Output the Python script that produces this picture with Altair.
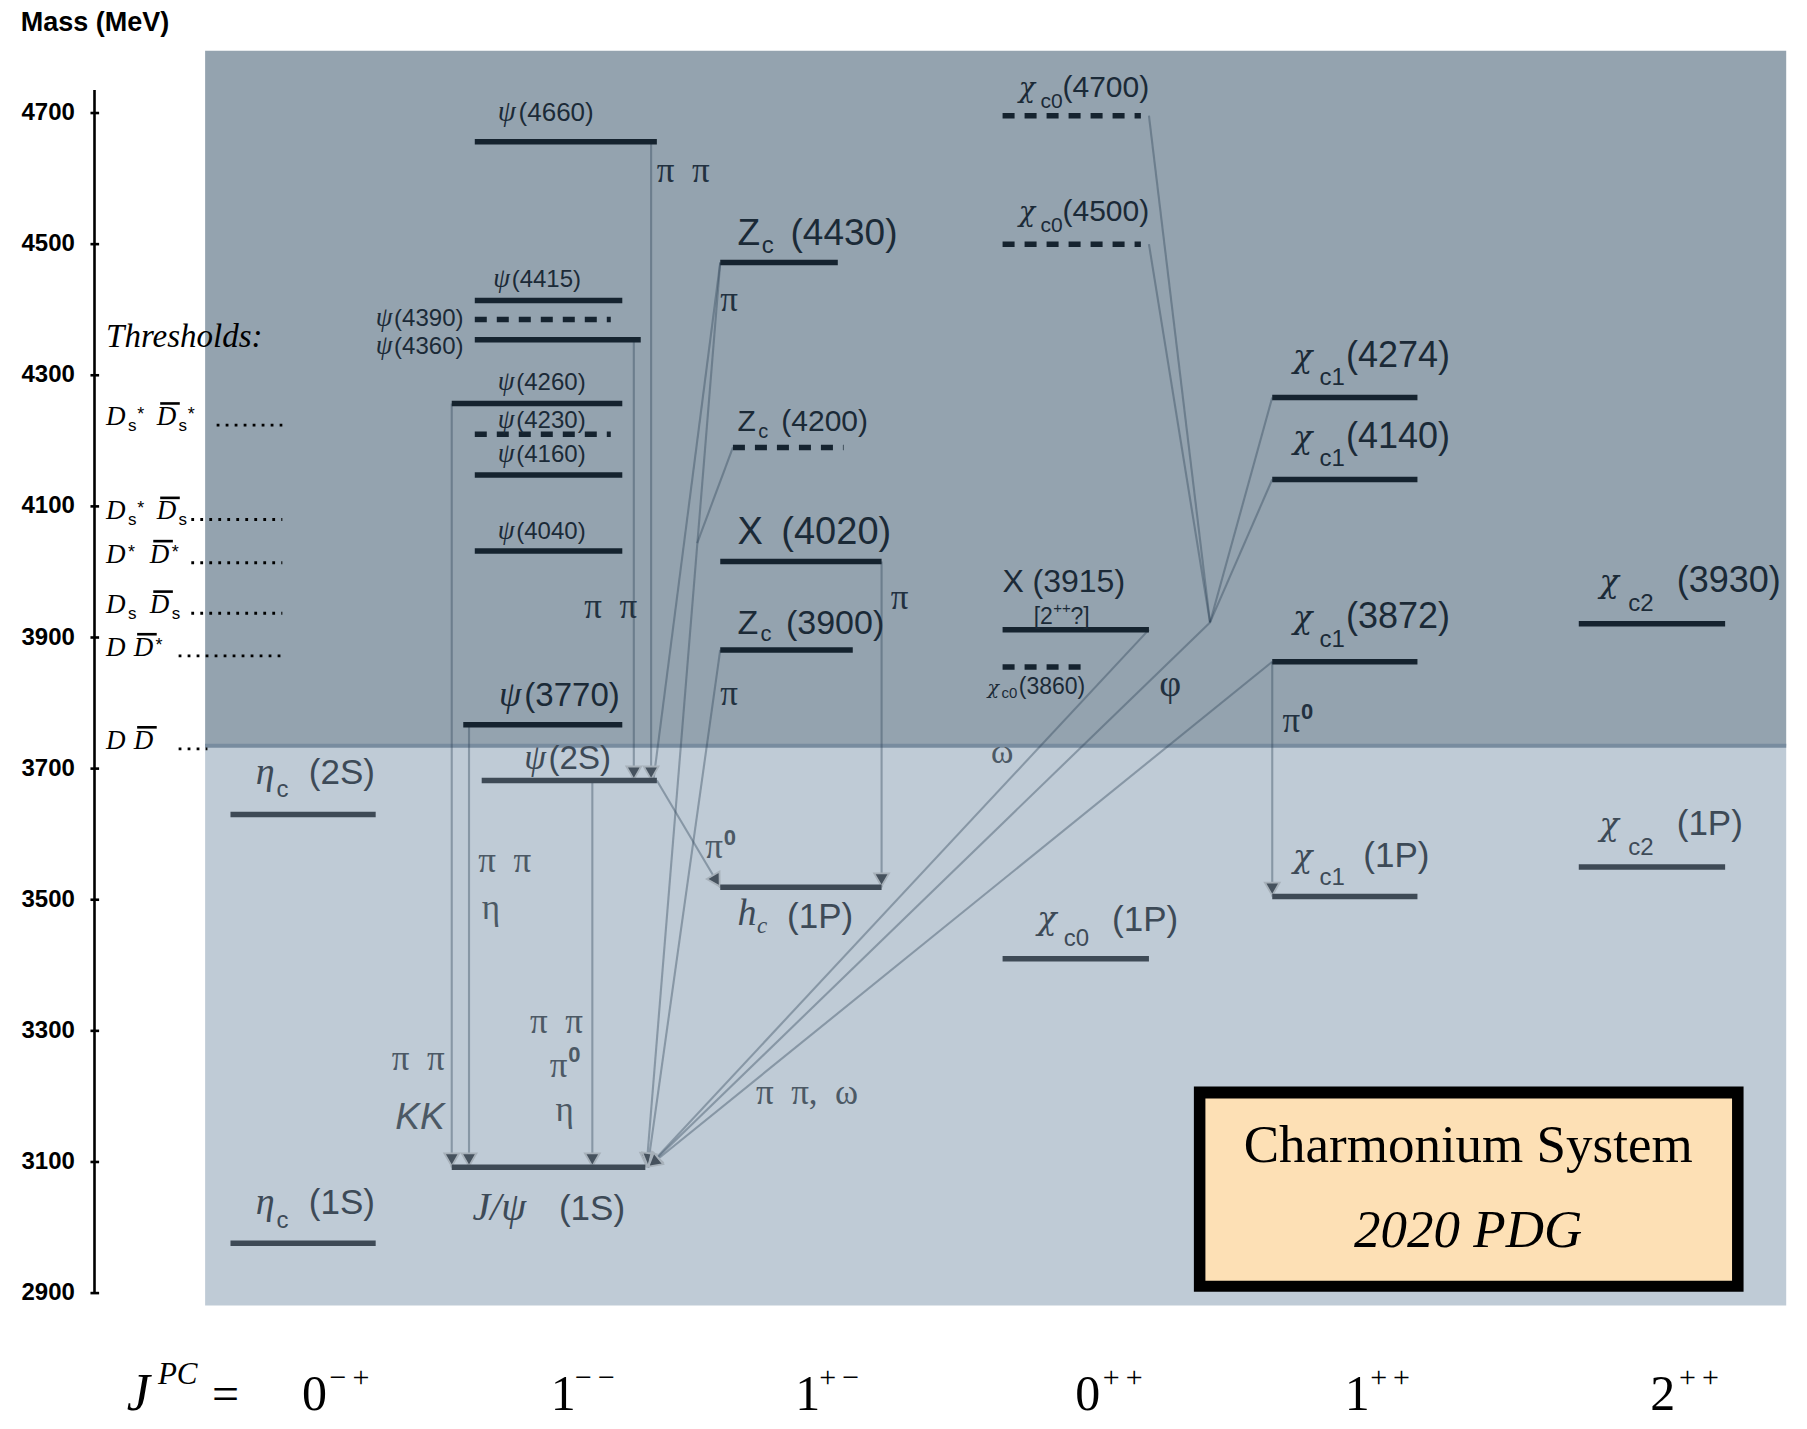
import math
import altair as alt
import pandas as pd

# ---------------- data ----------------
# mass axis (MeV)
tick_values = [2900, 3100, 3300, 3500, 3700, 3900, 4100, 4300, 4500, 4700]
tick_labels = [str(v) for v in tick_values]
axis_top = 4735

# shaded regions (above / below the D Dbar threshold)
region_top, region_split, region_bottom = 4795, 3735, 2881
region_left, region_right = 178, 1550

# levels: mass, horizontal extent in layout columns
level_name = ["ψ(4660)", "ψ(4415)", "ψ(4390)", "ψ(4360)", "ψ(4260)", "ψ(4230)", "ψ(4160)",
              "ψ(4040)", "ψ(3770)", "ψ(2S)", "J/ψ(1S)", "ηc(2S)", "ηc(1S)", "Zc(4430)",
              "Zc(4200)", "X(4020)", "Zc(3900)", "hc(1P)", "χc0(4700)", "χc0(4500)", "X(3915)",
              "χc0(3860)", "χc0(1P)", "χc1(4274)", "χc1(4140)", "χc1(3872)", "χc1(1P)",
              "χc2(3930)", "χc2(1P)"]
level_mass = [4656, 4414, 4385, 4354, 4257, 4210, 4148, 4032, 3767, 3682, 3092, 3630, 2976,
              4472, 4190, 4016, 3881, 3519, 4696, 4500, 3912, 3855, 3410, 4266, 4141, 3863,
              3505, 3921, 3550]
level_x0 = [412, 412, 412, 412, 392, 412, 412, 412, 402, 418, 392, 200, 200, 625, 636, 625,
            625, 625, 870, 870, 870, 870, 870, 1104, 1104, 1104, 1104, 1370, 1370]
level_x1 = [570, 540, 530, 556, 540, 530, 540, 540, 540, 570, 560, 326, 326, 727, 732, 765,
            740, 765, 990, 990, 997, 945, 997, 1230, 1230, 1230, 1230, 1497, 1497]
level_dashed = [0, 0, 1, 0, 0, 1, 0, 0, 0, 0, 0, 0, 0, 0, 1, 0, 0, 0, 1, 1, 0, 1, 0, 0, 0, 0,
                0, 0, 0]

# transitions (from -> to), arrow head at the end
t_x0 = [565, 550, 392, 407, 514, 570, 765, 625, 625, 636, 625, 997, 997, 997, 1104, 1104, 1050, 1104, 1104]
t_m0 = [4656, 4354, 4257, 3767, 3682, 3682, 4016, 4472, 4472, 4190, 3881, 3912, 4696, 4500, 4266, 4141, 3923, 3863, 3863]
t_x1 = [565, 550, 392, 407, 514, 625, 765, 567, 561, 605, 562, 562, 1050, 1050, 1050, 1050, 562, 562, 1104]
t_m1 = [3682, 3682, 3092, 3092, 3092, 3519, 3519, 3682, 3092, 4044, 3092, 3092, 3923, 3923, 3923, 3923, 3092, 3092, 3505]
t_arrow = [1, 1, 1, 1, 1, 1, 1, 0, 1, 0, 1, 1, 0, 0, 0, 0, 1, 1, 1]

# open-charm thresholds (MeV) and their dotted leaders
threshold_mass = [4224, 4080, 4014, 3937, 3872, 3730]
threshold_dot_x0 = [188, 166, 166, 166, 155, 155]
threshold_dot_x1 = [245, 245, 245, 245, 245, 180]
threshold_bar_x0 = [139, 139, 133, 133, 119, 119]
threshold_bar_x1 = [156, 156, 150, 150, 136, 136]

# PDG box
box_outer = (1036, 1513, 2902, 3215)
box_inner = (1046, 1503, 2919, 3197)

# ---------------- style ----------------
SANS = "Liberation Sans, Arial, Helvetica, sans-serif"
SERIF = "Liberation Serif, Times New Roman, serif"
GREEK = "DejaVu Serif, Liberation Serif, serif"
K = "#000000"
U = "#1b2a37"
L = "#3d4a57"
TU = "#223140"
TL = "#4c5965"
SP = "\u2002"
TH = "\u2009"

axis_title = [("Mass (MeV)", 18, 4825, 27, "sansb", K, "left")]

threshold_text = [
    ("Thresholds:", 92, 4343, 33, "serifi", K, "left"),
    # Ds* Dsbar*
    ("D", 92, 4224, 27, "serifi", K, "left"), ("s", 111, 4215, 17, "sans", K, "left"),
    ("*", 119, 4232, 18, "sans", K, "left"),
    ("D", 136, 4224, 27, "serifi", K, "left"), ("s", 155, 4215, 17, "sans", K, "left"),
    ("*", 163, 4232, 18, "sans", K, "left"),
    # Ds* Dsbar
    ("D", 92, 4080, 27, "serifi", K, "left"), ("s", 111, 4071, 17, "sans", K, "left"),
    ("*", 119, 4088, 18, "sans", K, "left"),
    ("D", 136, 4080, 27, "serifi", K, "left"), ("s", 155, 4071, 17, "sans", K, "left"),
    # D* Dbar*
    ("D", 92, 4014, 27, "serifi", K, "left"), ("*", 111, 4022, 18, "sans", K, "left"),
    ("D", 130, 4014, 27, "serifi", K, "left"), ("*", 149, 4022, 18, "sans", K, "left"),
    # Ds Dsbar
    ("D", 92, 3937, 27, "serifi", K, "left"), ("s", 111, 3928, 17, "sans", K, "left"),
    ("D", 130, 3937, 27, "serifi", K, "left"), ("s", 149, 3928, 17, "sans", K, "left"),
    # D Dbar*
    ("D", 92, 3872, 27, "serifi", K, "left"),
    ("D", 116, 3872, 27, "serifi", K, "left"), ("*", 135, 3880, 18, "sans", K, "left"),
    # D Dbar
    ("D", 92, 3730, 27, "serifi", K, "left"),
    ("D", 116, 3730, 27, "serifi", K, "left"),
]

level_labels = [
    ("ψ", 432, 4688, 29, "serifi", U, "left"), ("(4660)", 450, 4688, 26, "sans", U, "left"),
    ("ψ", 428, 4435, 27, "serifi", U, "left"), ("(4415)", 444, 4435, 24, "sans", U, "left"),
    ("ψ", 326, 4375, 27, "serifi", U, "left"), ("(4390)", 342, 4375, 24, "sans", U, "left"),
    ("ψ", 326, 4333, 27, "serifi", U, "left"), ("(4360)", 342, 4333, 24, "sans", U, "left"),
    ("ψ", 432, 4278, 27, "serifi", U, "left"), ("(4260)", 448, 4278, 24, "sans", U, "left"),
    ("ψ", 432, 4220, 27, "serifi", U, "left"), ("(4230)", 448, 4220, 24, "sans", U, "left"),
    ("ψ", 432, 4167, 27, "serifi", U, "left"), ("(4160)", 448, 4167, 24, "sans", U, "left"),
    ("ψ", 432, 4051, 27, "serifi", U, "left"), ("(4040)", 448, 4051, 24, "sans", U, "left"),
    ("ψ", 433, 3795, 36, "serifi", U, "left"), ("(3770)", 455, 3795, 33, "sans", U, "left"),
    ("ψ", 455, 3700, 35, "serifi", L, "left"), ("(2S)", 476, 3700, 33, "sans", L, "left"),
    ("J/ψ", 410, 3011, 40, "serifi", L, "left"), ("(1S)", 485, 3011, 35, "sans", L, "left"),
    ("η", 222, 3677, 38, "serifi", L, "left"), ("c", 240, 3656, 24, "sans", L, "left"),
    ("(2S)", 268, 3677, 35, "sans", L, "left"),
    ("η", 222, 3020, 38, "serifi", L, "left"), ("c", 240, 2999, 24, "sans", L, "left"),
    ("(1S)", 268, 3020, 35, "sans", L, "left"),
    ("Z", 640, 4498, 37, "sans", U, "left"), ("c", 661, 4486, 24, "sans", U, "left"),
    ("(4430)", 686, 4498, 37, "sans", U, "left"),
    ("Z", 640, 4215, 30, "sans", U, "left"), ("c", 658, 4205, 20, "sans", U, "left"),
    ("(4200)", 678, 4215, 30, "sans", U, "left"),
    ("X", 640, 4043, 38, "sans", U, "left"), ("(4020)", 678, 4043, 38, "sans", U, "left"),
    ("Z", 640, 3905, 34, "sans", U, "left"), ("c", 660, 3895, 22, "sans", U, "left"),
    ("(3900)", 682, 3905, 34, "sans", U, "left"),
    ("h", 640, 3461, 38, "serifi", L, "left"), ("c", 657, 3449, 23, "serifi", L, "left"),
    ("(1P)", 683, 3457, 35, "sans", L, "left"),
    ("χ", 884, 4725, 27, "greeki", U, "left"), ("c0", 903, 4708, 21, "sans", U, "left"),
    ("(4700)", 922, 4725, 30, "sans", U, "left"),
    ("χ", 884, 4535, 27, "greeki", U, "left"), ("c0", 903, 4518, 21, "sans", U, "left"),
    ("(4500)", 922, 4535, 30, "sans", U, "left"),
    ("X", 870, 3970, 32, "sans", U, "left"), ("(3915)", 896, 3970, 32, "sans", U, "left"),
    ("[2", 897, 3921, 23, "sans", U, "left"), ("++", 914, 3938, 15, "sans", U, "left"),
    ("?]", 929, 3921, 23, "sans", U, "left"),
    ("χ", 857, 3814, 19, "greeki", U, "left"), ("c0", 869, 3807, 15, "sans", U, "left"),
    ("(3860)", 884, 3814, 23, "sans", U, "left"),
    ("χ", 900, 3455, 32, "greeki", L, "left"), ("c0", 923, 3430, 24, "sans", L, "left"),
    ("(1P)", 965, 3452, 35, "sans", L, "left"),
    ("χ", 1122, 4313, 32, "greeki", U, "left"), ("c1", 1145, 4285, 24, "sans", U, "left"),
    ("(4274)", 1168, 4313, 36, "sans", U, "left"),
    ("χ", 1122, 4189, 32, "greeki", U, "left"), ("c1", 1145, 4161, 24, "sans", U, "left"),
    ("(4140)", 1168, 4189, 36, "sans", U, "left"),
    ("χ", 1122, 3914, 32, "greeki", U, "left"), ("c1", 1145, 3886, 24, "sans", U, "left"),
    ("(3872)", 1168, 3914, 36, "sans", U, "left"),
    ("χ", 1122, 3550, 32, "greeki", L, "left"), ("c1", 1145, 3522, 24, "sans", L, "left"),
    ("(1P)", 1183, 3550, 35, "sans", L, "left"),
    ("χ", 1388, 3969, 32, "greeki", U, "left"), ("c2", 1413, 3940, 24, "sans", U, "left"),
    ("(3930)", 1455, 3969, 36, "sans", U, "left"),
    ("χ", 1388, 3598, 32, "greeki", L, "left"), ("c2", 1413, 3569, 24, "sans", L, "left"),
    ("(1P)", 1455, 3598, 35, "sans", L, "left"),
]

transition_labels = [
    ("π" + SP + "π", 570, 4595, 35, "serif", TU, "left"),
    ("π" + SP + "π", 507, 3930, 35, "serif", TU, "left"),
    ("π", 625, 4398, 35, "serif", TU, "left"),
    ("π", 625, 3797, 35, "serif", TU, "left"),
    ("π", 773, 3944, 35, "serif", TU, "left"),
    ("φ", 1006, 3811, 38, "serif", TU, "left"),
    ("π", 1113, 3756, 35, "serif", TU, "left"), ("0", 1129, 3776, 22, "sansb", TU, "left"),
    ("ω", 860, 3709, 34, "serif", TL, "left"),
    ("π", 612, 3563, 35, "serif", TL, "left"), ("0", 628, 3584, 22, "sansb", TL, "left"),
    ("π" + SP + "π", 415, 3543, 35, "serif", TL, "left"), ("η", 418, 3471, 35, "serif", TL, "left"),
    ("π" + SP + "π", 340, 3241, 35, "serif", TL, "left"), ("KK", 343, 3150, 37, "sansi", TL, "left"),
    ("π" + SP + "π", 460, 3297, 35, "serif", TL, "left"),
    ("π", 477, 3229, 35, "serif", TL, "left"), ("0", 493, 3252, 22, "sansb", TL, "left"),
    ("η", 482, 3162, 35, "serif", TL, "left"),
    ("π" + SP + "π," + SP + "ω", 656, 3188, 35, "serif", TL, "left"),
]

box_text = [
    ("Charmonium System", 1274, 3100, 53, "serif", K, "center"),
    ("2020 PDG", 1274, 2970, 53, "serifi", K, "center"),
]

jpc_base, jpc_sup = 2722, 2757
jpc_text = [
    ("J", 110, jpc_base, 52, "serifi", K, "left"), ("PC", 137, 2762, 31, "serifi", K, "left"),
    ("=", 184, jpc_base, 48, "serif", K, "left"),
    ("0", 262, jpc_base, 50, "serif", K, "left"), ("−" + TH + "+", 286, jpc_sup, 30, "serif", K, "left"),
    ("1", 478, jpc_base, 50, "serif", K, "left"), ("−" + TH + "−", 499, jpc_sup, 30, "serif", K, "left"),
    ("1", 690, jpc_base, 50, "serif", K, "left"), ("+" + TH + "−", 711, jpc_sup, 30, "serif", K, "left"),
    ("0", 933, jpc_base, 50, "serif", K, "left"), ("+" + TH + "+", 957, jpc_sup, 30, "serif", K, "left"),
    ("1", 1167, jpc_base, 50, "serif", K, "left"), ("+" + TH + "+", 1189, jpc_sup, 30, "serif", K, "left"),
    ("2", 1432, jpc_base, 50, "serif", K, "left"), ("+" + TH + "+", 1457, jpc_sup, 30, "serif", K, "left"),
]

# ---------------- scales ----------------
W, H = 1791, 1413
X_DOM = [6.94, 1561.1]
Y_DOM = [2704.9, 4860.2]
xs = alt.Scale(domain=X_DOM, nice=False, zero=False)
ys = alt.Scale(domain=Y_DOM, nice=False, zero=False)
KX = W / (X_DOM[1] - X_DOM[0])
KY = H / (Y_DOM[1] - Y_DOM[0])


def X(f):
    return alt.X(f, type="quantitative", scale=xs, axis=None)


def Y(f):
    return alt.Y(f, type="quantitative", scale=ys, axis=None)


layers = []

# background regions
regions = pd.DataFrame({
    "x0": [region_left, region_left], "x1": [region_right, region_right],
    "m0": [region_split, region_bottom], "m1": [region_top, region_split],
    "col": ["#94a3af", "#bfcbd6"],
})
layers.append(alt.Chart(regions).mark_rect().encode(
    x=X("x0"), x2="x1:Q", y=Y("m0"), y2="m1:Q", color=alt.Color("col:N", scale=None)))
layers.append(alt.Chart(pd.DataFrame({"x0": [region_left], "x1": [region_right], "m": [region_split]}))
              .mark_rule(strokeWidth=4, color="#788c9f").encode(x=X("x0"), x2="x1:Q", y=Y("m")))

# transitions
trans = pd.DataFrame({"x0": t_x0, "m0": t_m0, "x1": t_x1, "m1": t_m1})
layers.append(alt.Chart(trans).mark_rule(strokeWidth=2.1, color="#2e4256", opacity=0.38).encode(
    x=X("x0"), y=Y("m0"), x2="x1:Q", y2="m1:Q"))

# arrow heads, oriented along each transition
heads = []
R = 7.5
for a, b, c, d, f in zip(t_x0, t_m0, t_x1, t_m1, t_arrow):
    if not f:
        continue
    dxp = (c - a) * KX
    dyp = -(d - b) * KY
    n = math.hypot(dxp, dyp)
    ux, uy = dxp / n, dyp / n
    heads.append({"x": c - R * ux / KX, "m": d + R * uy / KY,
                  "ang": math.degrees(math.atan2(-ux, uy)) % 360})
layers.append(alt.Chart(pd.DataFrame(heads)).mark_point(
    shape="triangle-down", filled=True, fill="#46525e", stroke="#a7b1ba", strokeWidth=1.8,
    size=220, opacity=1).encode(x=X("x"), y=Y("m"), angle=alt.Angle("ang:Q", scale=None)))

# levels
lev = pd.DataFrame({"name": level_name, "m": level_mass, "x0": level_x0, "x1": level_x1,
                    "dash": level_dashed})
lev["col"] = ["#15232f" if m > region_split else "#3e4a56" for m in lev["m"]]
layers.append(alt.Chart(lev[lev.dash == 0]).mark_rule(strokeWidth=5.5, strokeCap="butt").encode(
    x=X("x0"), x2="x1:Q", y=Y("m"), color=alt.Color("col:N", scale=None)))
layers.append(alt.Chart(lev[lev.dash == 1]).mark_rule(strokeWidth=5.5, strokeCap="butt",
                                                      strokeDash=[12, 10]).encode(
    x=X("x0"), x2="x1:Q", y=Y("m"), color=alt.Color("col:N", scale=None)))

# thresholds: dotted leaders and overbars
th = pd.DataFrame({"m": threshold_mass, "x0": threshold_dot_x0, "x1": threshold_dot_x1,
                   "b0": threshold_bar_x0, "b1": threshold_bar_x1})
th["mb"] = th["m"] + 33
layers.append(alt.Chart(th).mark_rule(strokeWidth=2.8, strokeDash=[2.8, 6.2], color="black").encode(
    x=X("x0"), x2="x1:Q", y=Y("m")))
layers.append(alt.Chart(th).mark_rule(strokeWidth=2.6, color="black").encode(
    x=X("b0"), x2="b1:Q", y=Y("mb")))

# mass axis
layers.append(alt.Chart(pd.DataFrame({"x": [82], "m0": [tick_values[0]], "m1": [axis_top]}))
              .mark_rule(strokeWidth=2.6, color="black").encode(x=X("x"), y=Y("m0"), y2="m1:Q"))
ticks = pd.DataFrame({"m": tick_values, "lab": tick_labels})
ticks["x0"] = 78.5
ticks["x1"] = 86
ticks["xl"] = 65
layers.append(alt.Chart(ticks).mark_rule(strokeWidth=2.6, color="black").encode(
    x=X("x0"), x2="x1:Q", y=Y("m")))
layers.append(alt.Chart(ticks).mark_text(font=SANS, fontWeight="bold", fontSize=24, align="right",
                                         baseline="middle", color="black").encode(
    x=X("xl"), y=Y("m"), text="lab:N"))

# PDG box
box = pd.DataFrame({"x0": [box_outer[0], box_inner[0]], "x1": [box_outer[1], box_inner[1]],
                    "m0": [box_outer[2], box_inner[2]], "m1": [box_outer[3], box_inner[3]],
                    "col": ["#000000", "#fde0b5"]})
layers.append(alt.Chart(box).mark_rect().encode(
    x=X("x0"), x2="x1:Q", y=Y("m0"), y2="m1:Q", color=alt.Color("col:N", scale=None)))

# texts
GROUPS = {
    "sans": dict(font=SANS, fontStyle="normal", fontWeight="normal"),
    "sansb": dict(font=SANS, fontStyle="normal", fontWeight="bold"),
    "sansi": dict(font=SANS, fontStyle="italic", fontWeight="normal"),
    "serif": dict(font=SERIF, fontStyle="normal", fontWeight="normal"),
    "serifi": dict(font=SERIF, fontStyle="italic", fontWeight="normal"),
    "greeki": dict(font=GREEK, fontStyle="italic", fontWeight="normal"),
}
rows = axis_title + threshold_text + level_labels + transition_labels + box_text + jpc_text
tx = pd.DataFrame(rows, columns=["t", "x", "m", "s", "g", "c", "a"])
for (g, a), sub in tx.groupby(["g", "a"]):
    layers.append(alt.Chart(sub.reset_index(drop=True)).mark_text(
        baseline="alphabetic", align=a, **GROUPS[g]).encode(
        x=X("x"), y=Y("m"), text="t:N",
        size=alt.Size("s:Q", scale=None, legend=None),
        color=alt.Color("c:N", scale=None, legend=None)))

chart = alt.layer(*layers).properties(width=W, height=H, autosize="none", padding=0)
chart = chart.configure_view(stroke=None)
chart.save("out.html", embed_options={"renderer": "svg", "actions": False})
